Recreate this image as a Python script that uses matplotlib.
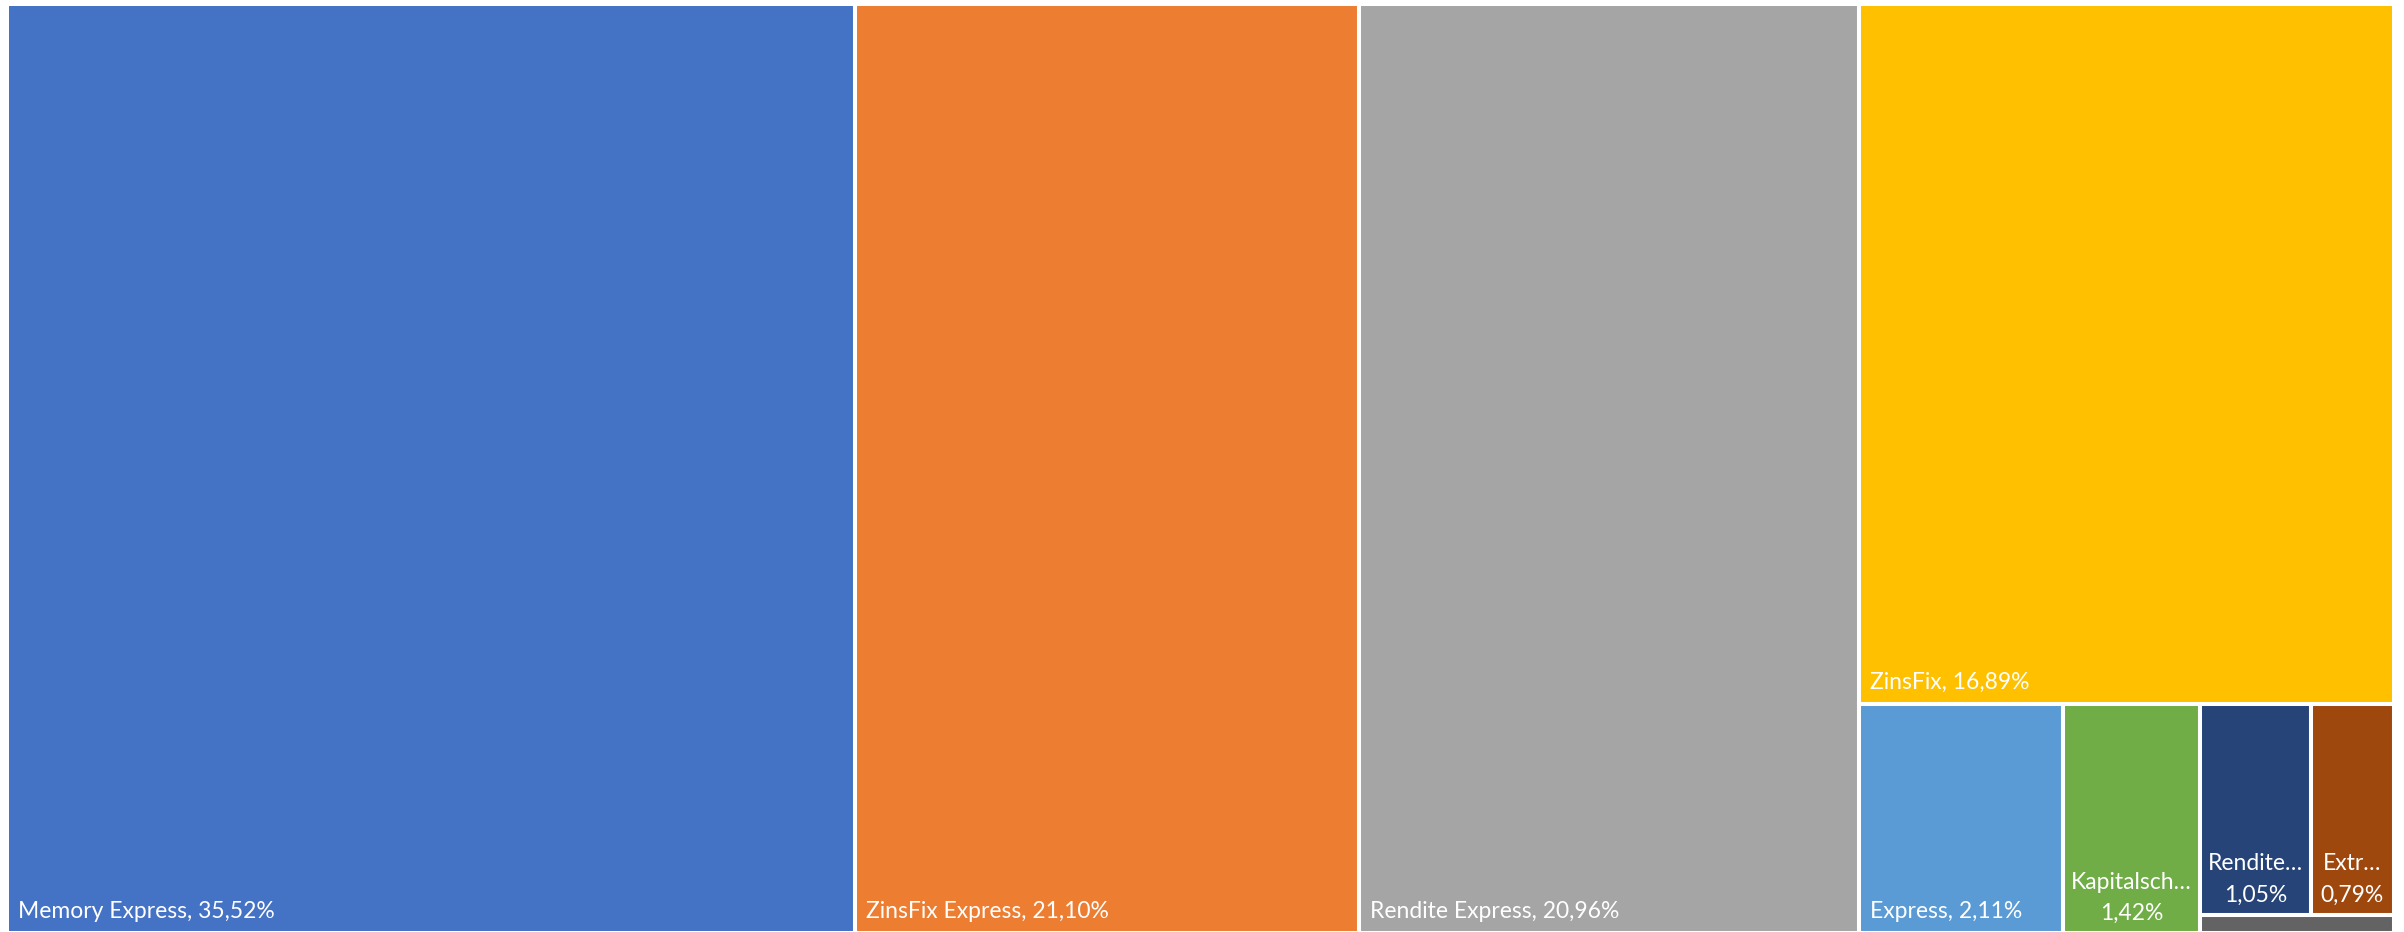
import matplotlib
matplotlib.use("Agg")
import matplotlib.pyplot as plt
from matplotlib.patches import Rectangle

# shares in percent, as printed on the tiles
names = ["Memory Express", "ZinsFix Express", "Rendite Express", "ZinsFix",
         "Express", "Kapitalsch…", "Rendite…", "Extr…", "Sonstige"]
shares = [35.52, 21.10, 20.96, 16.89, 2.11, 1.42, 1.05, 0.79, 0.16]
colors = ["#4472C4", "#ED7D31", "#A5A5A5", "#FFC000",
          "#5B9BD5", "#70AD47", "#264478", "#9E480E", "#636363"]

# how the tiles are nested: 'h' = side by side, 'v' = stacked
tree = ("h", [0, 1, 2, ("v", [3, ("h", [4, 5, ("v", [("h", [6, 7]), 8])])])])

W, H = 2387.0, 929.0


def total(node):
    if isinstance(node, int):
        return shares[node]
    return sum(total(c) for c in node[1])


def layout(node, x, y, w, h, out):
    if isinstance(node, int):
        out[node] = (x, y, w, h)
        return
    direction, children = node
    s = total(node)
    pos = 0.0
    for c in children:
        frac = total(c) / s
        if direction == "h":
            layout(c, x + pos * w, y, w * frac, h, out)
        else:
            layout(c, x, y + pos * h, w, h * frac, out)
        pos += frac


rects = {}
layout(tree, 0.0, 0.0, W, H, rects)

fig = plt.figure(figsize=(24.04, 9.32), dpi=100)
ax = fig.add_axes([7 / 2404, 1 - (4 + H) / 932, W / 2404, H / 932])
ax.set_xlim(0, W)
ax.set_ylim(H, 0)
ax.axis("off")

font = "Lato"
fs = 16.5
renderer = fig.canvas.get_renderer()

for i in range(len(names)):
    x, y, w, h = rects[i]
    ax.add_patch(Rectangle((x, y), w, h, facecolor=colors[i],
                           edgecolor="white", linewidth=2.9))
    if h < 40:
        continue
    pct = f"{shares[i]:.2f}".replace(".", ",") + "%"
    t = ax.text(x + 11, y + h - 11, f"{names[i]}, {pct}", color="white",
                fontsize=fs, family=font, ha="left", va="bottom")
    bb = t.get_window_extent(renderer)
    if bb.width > w - 20:
        t.remove()
        ax.text(x + w / 2, y + h - 9, f"{names[i]}\n{pct}", color="white",
                fontsize=fs, family=font, ha="center", va="bottom",
                linespacing=1.6)

fig.savefig("out.png", dpi=100, facecolor="white")
